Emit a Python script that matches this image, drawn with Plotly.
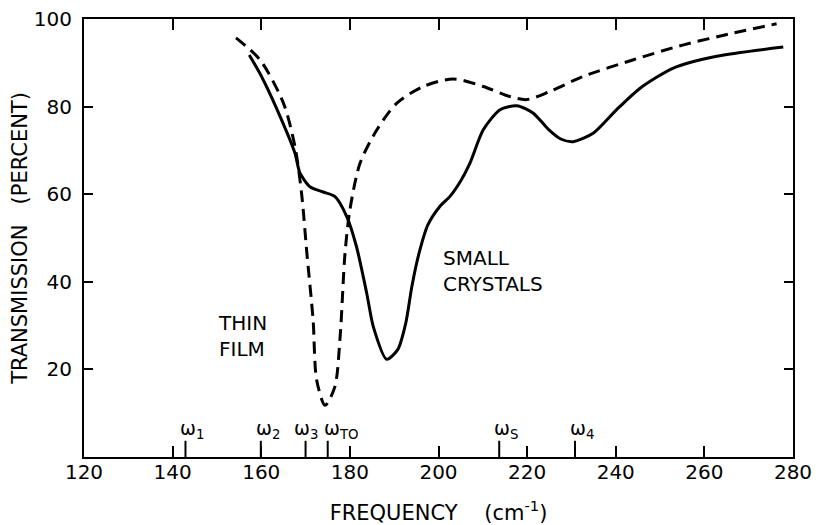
import plotly.graph_objects as go

# Small crystals (solid)
crystal_freq = [157.3, 160.0, 163.5, 167.6, 168.7, 171.0, 174.0, 176.6, 179.3, 181.5, 183.8, 185.3,
                188.3, 190.8, 192.6, 194.0, 195.6, 197.6, 200.3, 202.6, 205.0, 207.1, 210.1, 213.9, 217.7,
                221.4, 224.8, 227.6, 230.4, 234.9, 240.2, 245.5, 253.0, 262.8, 277.8]
crystal_trans = [91.8, 87.0, 79.5, 69.4, 64.9, 61.7, 60.5, 59.5, 54.9, 48.0, 37.4, 29.7,
                 22.3, 24.5, 30.5, 39.0, 46.5, 53.0, 57.2, 59.5, 63.0, 67.1, 74.7, 79.3, 80.2,
                 78.5, 74.8, 72.6, 72.0, 73.9, 79.3, 84.2, 88.8, 91.5, 93.6]

# Thin film (dashed)
film_freq = [154.3, 159.7, 165.0, 167.6, 169.1, 170.3, 171.7, 172.5, 174.4, 176.6, 177.8, 178.9,
             180.0, 182.3, 186.1, 190.6, 196.6, 203.3, 210.1, 216.1, 219.9, 225.2, 232.7, 244.0,
             255.3, 266.6, 276.3]
film_trans = [95.7, 90.7, 80.8, 70.9, 60.2, 46.5, 31.3, 17.6, 11.8, 16.0, 27.5, 46.5,
              56.4, 67.1, 74.7, 80.8, 84.6, 86.3, 84.6, 82.3, 81.6, 83.5, 86.9, 90.7,
              94.1, 96.8, 98.9]

# Characteristic frequencies
omega_labels = ["ω<sub>1</sub>", "ω<sub>2</sub>", "ω<sub>3</sub>", "ω<sub>TO</sub>", "ω<sub>S</sub>", "ω<sub>4</sub>"]
omega_freq = [142.9, 159.9, 170.0, 175.0, 213.7, 230.8]
omega_label_shift = [-7, -7, -14, -6, -7, -7]
omega_tick_height = 3.7

x_ticks = [120, 140, 160, 180, 200, 220, 240, 260, 280]
y_ticks = [20, 40, 60, 80, 100]

FONT = "DejaVu Sans"

fig = go.Figure()
fig.add_trace(go.Scatter(x=crystal_freq, y=crystal_trans, mode="lines",
                         line=dict(color="black", width=3, shape="spline", smoothing=0.7),
                         showlegend=False))
fig.add_trace(go.Scatter(x=film_freq, y=film_trans, mode="lines",
                         line=dict(color="black", width=3, shape="spline", smoothing=0.8,
                                   dash="12px,7px"),
                         showlegend=False))

for lab, f, sh in zip(omega_labels, omega_freq, omega_label_shift):
    fig.add_shape(type="line", x0=f, x1=f, y0=0, y1=omega_tick_height, xref="x", yref="y",
                  line=dict(color="black", width=2))
    fig.add_annotation(x=f, y=omega_tick_height, xref="x", yref="y", text=lab,
                       showarrow=False, xanchor="left", yanchor="bottom", xshift=sh, yshift=-3,
                       font=dict(family=FONT, size=19, color="black"))

fig.add_annotation(x=149.8, y=27.7, text="THIN<br>FILM", showarrow=False, xanchor="left",
                   yanchor="middle", align="left", font=dict(family=FONT, size=20, color="black"))
fig.add_annotation(x=200.5, y=42.5, text="SMALL<br>CRYSTALS", showarrow=False, xanchor="left",
                   yanchor="middle", align="left", font=dict(family=FONT, size=20, color="black"))

fig.update_layout(
    width=818, height=525,
    margin=dict(l=84, r=25, t=19, b=68),
    plot_bgcolor="white", paper_bgcolor="white",
    font=dict(family=FONT, color="black"),
)
fig.update_xaxes(range=[120, 280], tickvals=x_ticks, ticks="inside", ticklen=11, tickwidth=2,
                 tickcolor="black", showline=True, linecolor="black", linewidth=2, mirror="ticks",
                 showgrid=False, zeroline=False, tickfont=dict(size=20, family=FONT),
                 ticklabelstandoff=-4, automargin=False,
                 title=dict(text="FREQUENCY    (cm<sup>-1</sup>)", font=dict(size=21, family=FONT),
                            standoff=28))
fig.update_yaxes(range=[0, 100], tickvals=y_ticks, ticks="inside", ticklen=9, tickwidth=2,
                 tickcolor="black", showline=True, linecolor="black", linewidth=2, mirror="ticks",
                 showgrid=False, zeroline=False, tickfont=dict(size=20, family=FONT),
                 ticklabelstandoff=6, automargin=False,
                 title=dict(text="TRANSMISSION   (PERCENT)", font=dict(size=21, family=FONT),
                            standoff=0))

fig.write_html("out.html")
